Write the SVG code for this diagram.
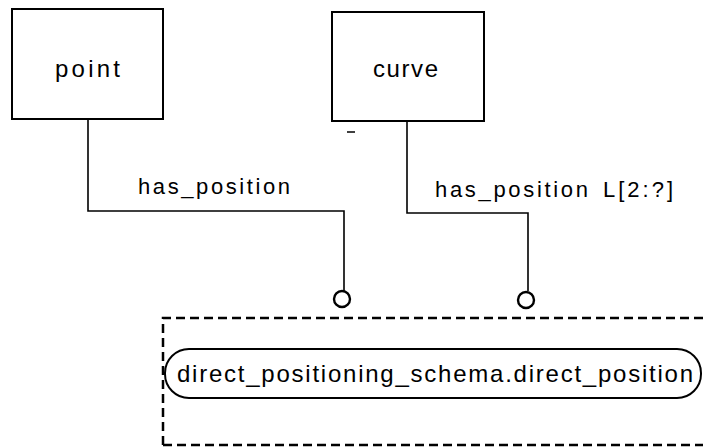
<svg xmlns="http://www.w3.org/2000/svg" width="703" height="448" viewBox="0 0 703 448">
  <style>
    .box { fill: #ffffff; stroke: #000000; stroke-width: 2; }
    .wire { fill: none; stroke: #000000; stroke-width: 1.6; }
    .end { fill: #ffffff; stroke: #000000; stroke-width: 2.4; }
    .scope { fill: none; stroke: #000000; stroke-width: 2.5; stroke-dasharray: 9 5; }
    .txt { font-family: "Liberation Sans", Arial, sans-serif; fill: #000000; }
  </style>
  <rect width="703" height="448" fill="#ffffff"/>

  <!-- schema boundary (dashed) -->
  <g id="schema-boundary">
    <path class="scope" d="M163 445 L163 318 L703 318"/>
    <path class="scope" d="M163 445 L703 445" stroke-dasharray="8 4"/>
  </g>

  <!-- entities -->
  <g id="node-point">
    <rect class="box" x="12" y="9" width="151" height="110"/>
    <text class="txt" x="55" y="77" font-size="24" textLength="65" lengthAdjust="spacing">point</text>
  </g>

  <g id="node-curve">
    <rect class="box" x="332" y="12" width="152" height="109"/>
    <text class="txt" x="373" y="77" font-size="24" textLength="65" lengthAdjust="spacing">curve</text>
  </g>

  <g id="node-direct-position">
    <rect class="box" x="165" y="349" width="536" height="49" rx="24" ry="24"/>
    <text class="txt" x="177" y="382" font-size="24" textLength="516" lengthAdjust="spacing">direct_positioning_schema.direct_position</text>
  </g>

  <!-- relationships -->
  <g id="connectors">
    <path class="wire" d="M88 119 L88 211 L344 211 L344 291"/>
    <circle class="end" cx="342" cy="299" r="8"/>
    <path class="wire" d="M407 121 L407 213 L528 213 L528 291"/>
    <circle class="end" cx="526" cy="300" r="8"/>
    <line x1="347" y1="132" x2="355" y2="132" stroke="#000000" stroke-width="1.5"/>
  </g>

  <!-- relationship labels -->
  <g id="labels">
    <text class="txt" x="138" y="194" font-size="22" textLength="152" lengthAdjust="spacing">has_position</text>
    <text class="txt" x="435" y="197" font-size="22" textLength="153" lengthAdjust="spacing">has_position</text>
    <text class="txt" x="603" y="197" font-size="22" textLength="70" lengthAdjust="spacing">L[2:?]</text>
  </g>
</svg>
